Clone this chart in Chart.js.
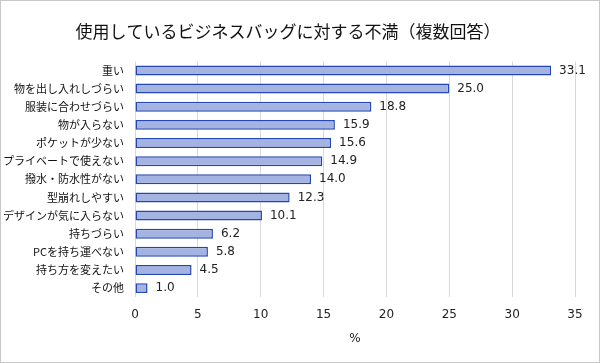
<!DOCTYPE html>
<html>
<head>
<meta charset="utf-8">
<script src="https://cdn.jsdelivr.net/npm/chart.js@4/dist/chart.umd.min.js"></script>
<style>
  html, body { margin: 0; padding: 0; background: #fff; }
  #wrap { position: relative; width: 598px; height: 361px; border: 1px solid #c8c8c8; }
</style>
</head>
<body>
<div id="wrap"><canvas id="grafico"></canvas></div>
<script>
// 使用しているビジネスバッグに対する不満（複数回答）
const categorias = [
  '重い', '物を出し入れしづらい', '服装に合わせづらい', '物が入らない',
  'ポケットが少ない', 'プライベートで使えない', '撥水・防水性がない',
  '型崩れしやすい', 'デザインが気に入らない', '持ちづらい',
  'PCを持ち運べない', '持ち方を変えたい', 'その他'
];
const valores = [33.1, 25.0, 18.8, 15.9, 15.6, 14.9, 14.0, 12.3, 10.1, 6.2, 5.8, 4.5, 1.0];
const ticksX = [0, 5, 10, 15, 20, 25, 30, 35];

const fonteJP = '"Noto Sans CJK JP", "Noto Sans", sans-serif';
const fonteNum = '"DejaVu Sans", Verdana, sans-serif';

// rótulos de valor no fim das barras
const rotulos = {
  id: 'rotulos',
  afterDatasetsDraw(chart) {
    const ctx = chart.ctx;
    const meta = chart.getDatasetMeta(0);
    ctx.save();
    ctx.font = '12px ' + fonteNum;
    ctx.fillStyle = '#222';
    ctx.textAlign = 'left';
    ctx.textBaseline = 'middle';
    meta.data.forEach((bar, i) => {
      ctx.fillText(valores[i].toFixed(1), bar.x + 8, bar.y);
    });
    ctx.restore();
  }
};

// preenchimento com leve degradê vertical em cada barra
function corBarra(context) {
  const el = context.element;
  const ctx = context.chart.ctx;
  if (!el || el.y === undefined) return '#a4b3e2';
  const h = el.height || 10;
  const g = ctx.createLinearGradient(0, el.y - h / 2, 0, el.y + h / 2);
  g.addColorStop(0, '#8fa2dc');
  g.addColorStop(0.3, '#c3cdee');
  g.addColorStop(0.6, '#a3b2e2');
  g.addColorStop(1, '#8b9ed9');
  return g;
}

new Chart(document.getElementById('grafico'), {
  type: 'bar',
  data: {
    labels: categorias,
    datasets: [{
      data: valores,
      backgroundColor: corBarra,
      borderColor: '#2548b0',
      borderWidth: 1.5,
      borderSkipped: false,
      barPercentage: 0.55,
      categoryPercentage: 1
    }]
  },
  options: {
    indexAxis: 'y',
    responsive: true,
    maintainAspectRatio: false,
    animation: false,
    layout: { padding: { left: 0, right: 24, top: 0, bottom: 12 } },
    plugins: {
      legend: { display: false },
      tooltip: { enabled: false },
      title: {
        display: true,
        text: '使用しているビジネスバッグに対する不満（複数回答）',
        color: '#111',
        font: { family: fonteJP, size: 17, weight: 'normal' },
        padding: { top: 20, bottom: 20 }
      }
    },
    scales: {
      x: {
        min: 0, max: 35,
        afterBuildTicks: s => { s.ticks = ticksX.map(v => ({ value: v })); },
        grid: { color: '#d9d9d9', drawTicks: false },
        border: { display: false },
        ticks: { color: '#222', font: { family: fonteNum, size: 12 }, padding: 10 },
        title: { display: true, text: '%', color: '#222', font: { family: fonteNum, size: 12 }, padding: { top: 0 } }
      },
      y: {
        grid: { display: false },
        border: { display: false },
        ticks: { color: '#111', font: { family: fonteJP, size: 11 }, padding: 3, autoSkip: false },
        afterFit: s => { s.width = 134; }
      }
    }
  },
  plugins: [rotulos]
});
</script>
</body>
</html>
